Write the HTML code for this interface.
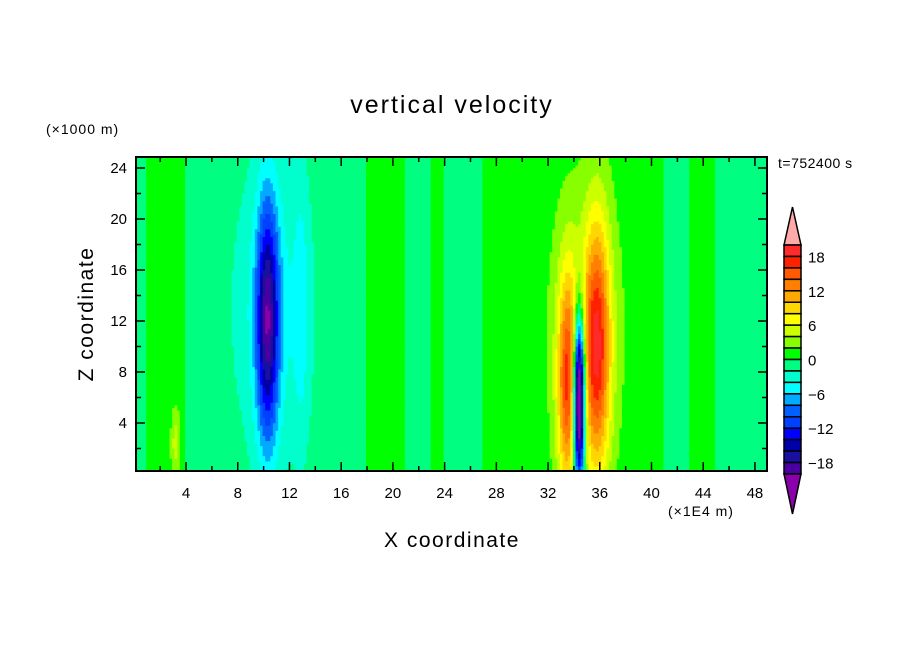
<!DOCTYPE html>
<html><head><meta charset="utf-8"><style>
body{margin:0;background:#fff;}
svg{display:block;font-family:"Liberation Sans",sans-serif;}
</style></head><body>
<svg id="chart" width="904" height="654">
<rect width="904" height="654" fill="#fff"/>
<g id="field"></g>
<g id="axes"></g>
<g id="cbar"></g>
<text x="452" y="113" text-anchor="middle" font-size="25" letter-spacing="2">vertical velocity</text>
<text x="46" y="134" font-size="14" letter-spacing="1">(×1000 m)</text>
<text x="778" y="168" font-size="14" letter-spacing="0.5">t=752400 s</text>
<text x="452" y="547" text-anchor="middle" font-size="21" letter-spacing="1.5">X coordinate</text>
<text transform="translate(93,314) rotate(-90)" text-anchor="middle" font-size="21" letter-spacing="1.5">Z coordinate</text>
<text x="668" y="516" font-size="14" letter-spacing="1">(×1E4 m)</text>
</svg>
<script>
// ---- data ----
const xTicks = [4,8,12,16,20,24,28,32,36,40,44,48];
const yTicks = [4,8,12,16,20,24];
const cbarLabels = [18,12,6,0,-6,-12,-18];
// background sign per x-unit column (+1 weak updraft, -1 weak downdraft)
const bgColumns = [-1,1,1,1,-1,-1,-1,-1,-1,-1,-1,-1,-1,-1,-1,-1,-1,-1,1,1,1,-1,-1,1,-1,-1,-1,1,1,1,1,1,1,1,1,1,1,1,1,1,1,-1,-1,1,1,-1,-1,-1,-1,-1];
// features: centers, widths, amplitudes
const featX  = [10.3, 10.7, 12.9, 33.5, 35.8, 34.9, 34.4, 3.2];
const featSX = [0.6,  2.0,  0.4,  0.55, 0.7,  1.6,  0.3,  0.25];
const featZ  = [12,   13,   13,   7,    10,   11,   6,    2.5];
const featSZ = [6.5,  8,    7,    6,    7,    7,    4.5,  1.8];
const featAmp= [-16,  -3.5, -3,   13,   14,   5,    -35,  4];
const levelColors = ["#4a00a0","#1a10a0","#0000aa","#0000ff","#0040ff","#0060ff","#00aaff","#00ffff","#00ffcc","#00ff80","#00ff00","#88ff00","#ccff00","#ffff00","#ffd700","#ffaa00","#ff8000","#ff5a00","#ff2000","#ff2a2a"];
const overColor="#ffaaaa", underColor="#8a00aa";
// ---- scales ----
const X0=134.3, XS=12.93, Z0=474, ZS=12.75;
const xs=u=>X0+u*XS, zs=z=>Z0-z*ZS;
const xMin=0.12, xMax=(767-X0)/XS, zMin=(Z0-471)/ZS, zMax=(Z0-157)/ZS;
const NS="http://www.w3.org/2000/svg";
function mk(t,a,p){const e=document.createElementNS(NS,t);for(const k in a)e.setAttribute(k,a[k]);p.appendChild(e);return e;}
function val(x,z){
  let v=bgColumns[Math.min(bgColumns.length-1,Math.max(0,Math.floor(x)))];
  for(let i=0;i<featX.length;i++){
    const dx=(x-featX[i])/featSX[i], dz=(z-featZ[i])/featSZ[i];
    v+=featAmp[i]*Math.exp(-0.5*(dx*dx+dz*dz));
  }
  return v;
}
function color(v){
  if(v>=20)return overColor; if(v<-20)return underColor;
  return levelColors[Math.floor(v/2)+10];
}
// ---- field ----
const field=document.getElementById('field');
const dStep=0.2;
for(let z=zMin;z<zMax;z+=dStep){
  let runStart=xMin, runCol=null;
  const z1=Math.min(z+dStep,zMax), zc=(z+z1)/2;
  for(let x=xMin;x<=xMax+dStep;x+=dStep){
    const c = x<xMax-1e-9 ? color(val(Math.min(x+dStep/2,xMax),zc)) : null;
    if(c!==runCol){
      if(runCol){
        const r=mk('rect',{x:xs(runStart).toFixed(1),y:zs(z1).toFixed(1),width:(xs(Math.min(x,xMax))-xs(runStart)+0.6).toFixed(1),height:((z1-z)*ZS+0.6).toFixed(1),fill:runCol},field);
        
        
      }
      runStart=x; runCol=c;
    }
    if(c===null)break;
  }
}
// ---- axes ----
const ax=document.getElementById('axes');
const frame=mk('rect',{x:136,y:157,width:631,height:314,fill:'none',stroke:'#000','stroke-width':2},ax);


for(let u=2;u<xMax;u+=2){
  const L=(u%4===0)?9:5, x=xs(u);
  mk('line',{x1:x,y1:471,x2:x,y2:471-L,stroke:'#000','stroke-width':1.5},ax);
  mk('line',{x1:x,y1:157,x2:x,y2:157+L,stroke:'#000','stroke-width':1.5},ax);
}
for(let z=2;z<zMax;z+=2){
  const L=(z%4===0)?9:5, y=zs(z);
  mk('line',{x1:136,y1:y,x2:136+L,y2:y,stroke:'#000','stroke-width':1.5},ax);
  mk('line',{x1:767,y1:y,x2:767-L,y2:y,stroke:'#000','stroke-width':1.5},ax);
}
xTicks.forEach(t=>{
  const e=mk('text',{x:xs(t),y:498,'text-anchor':'middle','font-size':15},ax);
  
  
  e.textContent=t;
});
yTicks.forEach(t=>{
  const e=mk('text',{x:127,y:zs(t)+5,'text-anchor':'end','font-size':15},ax);
  
  
  e.textContent=t;
});
// ---- colorbar ----
const cb=document.getElementById('cbar');
const cx0=784,cw=17,cTop=245,bh=11.45;
const nLev=levelColors.length;
const up=mk('polygon',{points:`${cx0},${cTop} ${cx0+cw/2},207 ${cx0+cw},${cTop}`,fill:overColor,stroke:'#000','stroke-width':1.5},cb);


for(let i=0;i<nLev;i++){
  const r=mk('rect',{x:cx0,y:cTop+i*bh,width:cw,height:bh,fill:levelColors[nLev-1-i],stroke:'#000','stroke-width':1.5},cb);
  
  
}
const cBot=cTop+nLev*bh;
const dn=mk('polygon',{points:`${cx0},${cBot} ${cx0+cw/2},514 ${cx0+cw},${cBot}`,fill:underColor,stroke:'#000','stroke-width':1.5},cb);


cbarLabels.forEach(v=>{
  const y=cTop+(20-v)/2*bh;
  const e=mk('text',{x:808,y:y+6,'font-size':15},cb);
  
  
  e.textContent=v<0?'\u2212'+(-v):v;
});
</script>
</body></html>
